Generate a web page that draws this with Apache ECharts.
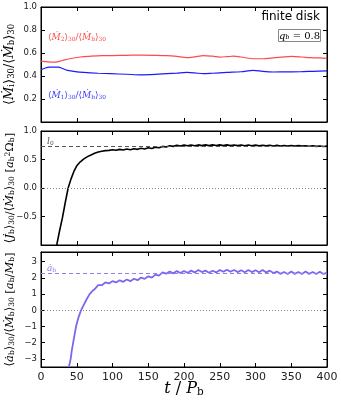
<!DOCTYPE html>
<html><head><meta charset="utf-8">
<script src="https://cdn.jsdelivr.net/npm/echarts@6/dist/echarts.min.js"></script>
<style>html,body{margin:0;padding:0;background:#fff}#c{width:341px;height:409px}</style>
</head><body><div id="c"></div>
<script>
// ---- data ----
const xTicks = [0,50,100,150,200,250,300,350,400];
const p1Ticks = [0.2,0.4,0.6,0.8,1.0];
const p2Ticks = [-0.5,0.0,0.5,1.0];
const p3Ticks = [-3,-2,-1,0,1,2,3];

const t2 = [0,10,20,30,40,55,70,85,100,120,140,160,176,190,204,215,227,240,250,260,269,280,297,310,325,340,350,365,376,390,400];
const m2 = [0.53,0.522,0.52,0.535,0.55,0.565,0.572,0.577,0.578,0.58,0.582,0.58,0.577,0.57,0.56,0.567,0.577,0.572,0.565,0.568,0.572,0.565,0.55,0.55,0.557,0.566,0.57,0.565,0.56,0.557,0.553];
const t1 = [0,6,12,24,30,37,48,60,80,97,120,139,160,176,190,204,215,227,240,260,280,297,310,325,345,363,380,400];
const m1 = [0.455,0.47,0.478,0.477,0.465,0.449,0.438,0.431,0.424,0.42,0.415,0.41,0.414,0.42,0.425,0.431,0.427,0.42,0.424,0.431,0.437,0.449,0.44,0.435,0.436,0.437,0.441,0.445];

const tJ = [22,26,30,34,38,42,46,50,55,60,65,70,75,80,85,90,95,100,105,110,115,120,125,130,135,140,145,150,155,160,165,170,175,180,185,190,195,200,205,210,215,220,225,230,235,240,245,250,255,260,265,270,275,280,285,290,295,300,305,310,315,320,325,330,335,340,345,350,355,360,365,370,375,380,385,390,395,400];
const Jb = [-1.0,-0.75,-0.52,-0.25,0.0,0.16,0.29,0.39,0.46,0.51,0.55,0.58,0.61,0.63,0.645,0.655,0.66,0.672,0.662,0.678,0.668,0.684,0.672,0.688,0.678,0.696,0.684,0.706,0.694,0.716,0.706,0.73,0.72,0.742,0.73,0.748,0.736,0.752,0.74,0.755,0.742,0.756,0.744,0.756,0.744,0.757,0.745,0.756,0.744,0.756,0.744,0.755,0.743,0.754,0.742,0.753,0.741,0.752,0.74,0.75,0.739,0.749,0.738,0.748,0.737,0.747,0.736,0.746,0.735,0.744,0.734,0.742,0.732,0.74,0.73,0.738,0.728,0.734];
const l0 = 0.73;

const tA = [39,41.5,43,45,47,49,52,56,60,64,68,72,76,80,85,90,95,100,105,110,115,120,125,130,135,140,145,150,155,160,165,170,175,180,185,190,195,200,205,210,215,220,225,230,235,240,245,250,255,260,265,270,275,280,285,290,295,300,305,310,315,320,325,330,335,340,345,350,355,360,365,370,375,380,385,390,395,400];
const Ab = [-3.5,-3.0,-2.5,-2.0,-1.5,-1.0,-0.5,0.0,0.35,0.7,1.0,1.2,1.35,1.55,1.55,1.72,1.66,1.80,1.72,1.85,1.76,1.90,1.80,1.95,1.86,2.02,1.94,2.10,2.02,2.20,2.14,2.34,2.26,2.40,2.28,2.42,2.30,2.43,2.31,2.45,2.34,2.49,2.36,2.45,2.32,2.44,2.34,2.49,2.38,2.51,2.38,2.49,2.36,2.47,2.35,2.49,2.36,2.47,2.35,2.49,2.34,2.45,2.30,2.39,2.25,2.37,2.24,2.39,2.25,2.37,2.24,2.39,2.25,2.37,2.24,2.38,2.24,2.33];
const qb = 2.3;

const yTitles = [
  '\u27e8{i|\u1e40}{s|i}\u27e9{s|30}/\u27e8{i|\u1e40}{s|b}\u27e9{s|30}',
  '\u27e8{i|J\u0307}{s|b}\u27e9{s|30}/\u27e8{i|\u1e40}{s|b}\u27e9{s|30} [{i|a}{s|b}{u|2}\u03a9{s|b}]',
  '\u27e8{i|\u0227}{s|b}\u27e9{s|30}/\u27e8{i|\u1e40}{s|b}\u27e9{s|30} [{i|a}{s|b}/{i|M}{s|b}]'
];
const yTitleSize = [13, 11.5, 11.5];

// ---- chart ----
const zip = (a,b)=>a.map((v,i)=>[v,b[i]]);
const fmt = v => String(v).replace('-', '\u2212');
const fmt1 = v => Number(v).toFixed(1).replace('-', '\u2212');
const panels = [{top:7, height:115},{top:131, height:114},{top:252, height:115}];
const grids = panels.map(p => ({top:p.top, height:p.height, left:41, right:14, show:true, borderColor:'#000', borderWidth:1, backgroundColor:'transparent'}));
const axLine = () => ({show:true, onZero:false, lineStyle:{color:'#000', width:1}});
const tickIn = (cv) => { const o = {show:true, inside:true, length:4, lineStyle:{color:'#000'}}; if (cv) o.customValues = cv.slice(); return o; };
const xAxes = [], yAxes = [];
for (let g=0; g<3; g++) {
  xAxes.push({type:'value', gridIndex:g, min:0, max:400, interval:50, position:'bottom',
    axisLine:axLine(), axisTick:tickIn(), splitLine:{show:false},
    axisLabel:{show:g===2, color:'#222', fontSize:11, fontFamily:'DejaVu Sans', margin:5}});
  xAxes.push({type:'value', gridIndex:g, min:0, max:400, interval:50, position:'top',
    axisLine:axLine(), axisTick:tickIn(), axisLabel:{show:false}, splitLine:{show:false}});
}
const yDefs = [
  {min:0, max:1, ticks:p1Ticks, f:fmt1},
  {min:-1, max:1, ticks:p2Ticks, f:fmt1},
  {min:-3.5, max:3.6, ticks:p3Ticks, f:fmt}
];
yDefs.forEach((d,g)=>{
  yAxes.push({type:'value', gridIndex:g, min:d.min, max:d.max, position:'left',
    axisLine:axLine(), splitLine:{show:false}, axisTick:tickIn(d.ticks),
    axisLabel:{show:true, color:'#222', fontSize:8.5, fontFamily:'DejaVu Sans', margin:4, customValues:d.ticks.slice(), formatter:d.f}});
  yAxes.push({type:'value', gridIndex:g, min:d.min, max:d.max, position:'right',
    axisLine:axLine(), splitLine:{show:false}, axisTick:tickIn(d.ticks),
    axisLabel:{show:false}});
});

const zeroLine = (extra) => ({silent:true, symbol:'none', animation:false,
  data:[{yAxis:0, lineStyle:{color:'#888', type:[1,2], width:1}, label:{show:false}}].concat(extra||[])});

const richT = (fs, col) => ({
  i:{fontStyle:'italic', fontFamily:'DejaVu Serif', fontSize:fs, fill:col, color:col},
  s:{fontSize:Math.round(fs*0.65*10)/10, fontFamily:'DejaVu Serif', fill:col, color:col, verticalAlign:'bottom', lineHeight:fs*0.85},
  u:{fontSize:Math.round(fs*0.65*10)/10, fontFamily:'DejaVu Serif', fill:col, color:col, verticalAlign:'top', lineHeight:fs*0.85}
});

const graphics = [
  {type:'text', right:21, top:11, style:{text:'finite disk', fontSize:12, fontFamily:'DejaVu Sans', fill:'#000'}},
  {type:'rect', shape:{x:278.5, y:29.5, width:42, height:12}, style:{fill:'#fff', stroke:'#888', lineWidth:1}},
  {type:'text', x:299.5, y:36, style:{text:'{i|q}{s|b} = 0.8', align:'center', verticalAlign:'middle', fontSize:10, fontFamily:'DejaVu Serif', fill:'#000', rich:richT(10,'#000')}},
  {type:'text', x:48, y:38, style:{text:'\u27e8{i|\u1e40}{s|2}\u27e9{s|30}/\u27e8{i|\u1e40}{s|b}\u27e9{s|30}', verticalAlign:'middle', fontSize:9, fontFamily:'DejaVu Serif', fill:'#ff4a4a', rich:richT(9,'#ff4a4a')}},
  {type:'text', x:48, y:96, style:{text:'\u27e8{i|\u1e40}{s|1}\u27e9{s|30}/\u27e8{i|\u1e40}{s|b}\u27e9{s|30}', verticalAlign:'middle', fontSize:9, fontFamily:'DejaVu Serif', fill:'#3a3aff', rich:richT(9,'#3a3aff')}},
  {type:'text', x:184, y:389, style:{text:'{i|t} / {i|P}{s|b}', align:'center', verticalAlign:'middle', fontSize:16, fontFamily:'DejaVu Serif', fill:'#000', rich:richT(16,'#000')}}
];
panels.forEach((p,g)=>{
  graphics.push({type:'text', x:10, y:p.top + p.height/2, rotation:Math.PI/2,
    style:{text:yTitles[g], align:'center', verticalAlign:'middle', fontSize:yTitleSize[g], fontFamily:'DejaVu Serif', fill:'#000', rich:richT(yTitleSize[g],'#000')}});
});

const option = {
  animation:false,
  grid:grids, xAxis:xAxes, yAxis:yAxes,
  series:[
    {type:'line', xAxisIndex:0, yAxisIndex:0, data:zip(t2,m2), showSymbol:false, smooth:0.3, lineStyle:{color:'#ff4a4a', width:1.2}},
    {type:'line', xAxisIndex:0, yAxisIndex:0, data:zip(t1,m1), showSymbol:false, smooth:0.3, lineStyle:{color:'#1a1aff', width:1.2}},
    {type:'line', xAxisIndex:2, yAxisIndex:2, data:zip(tJ,Jb), showSymbol:false, lineStyle:{color:'#000', width:1.6},
      markLine:zeroLine([{yAxis:l0, lineStyle:{color:'#555', type:[4,3], width:1},
        label:{show:true, position:'insideStartTop', formatter:'{i|l}{s|0}', distance:[6,0], color:'#555', fontFamily:'DejaVu Serif', fontSize:9, rich:richT(9,'#555')}}])},
    {type:'line', xAxisIndex:4, yAxisIndex:4, data:zip(tA,Ab), showSymbol:false, lineStyle:{color:'#7b68ee', width:1.8},
      markLine:zeroLine([{yAxis:qb, lineStyle:{color:'#8f80f0', type:[4,3], width:1},
        label:{show:true, position:'insideStartTop', formatter:'{i|\u0227}{s|b}', distance:[6,0], color:'#8f80f0', fontFamily:'DejaVu Serif', fontSize:9, rich:richT(9,'#8f80f0')}}])}
  ],
  graphic:graphics
};
const el = document.getElementById('c');
const chart = echarts.init(el, null, {renderer:'canvas', width:341, height:408});
chart.setOption(option);
chart.resize({width:341, height:409});

// safety net: if the y tick labels were not drawn by the axes, place them with the axes' own scale
function labelShown(txt) {
  try {
    return chart.getZr().storage.getDisplayList(true).some(e => e.style && e.style.text === txt && !e.ignore && !e.invisible);
  } catch (err) { return true; }
}
const extra = [];
yDefs.forEach((d,g)=>{
  const probe = d.f(d.ticks[1]);
  if (!labelShown(probe)) {
    d.ticks.forEach(v=>{
      const p = chart.convertToPixel({xAxisIndex:2*g, yAxisIndex:2*g}, [0, v]);
      extra.push({type:'text', x:p[0]-4, y:p[1], style:{text:d.f(v), align:'right', verticalAlign:'middle', fontSize:8.5, fontFamily:'DejaVu Sans', fill:'#222'}});
    });
  }
});
if (extra.length) chart.setOption({graphic: graphics.concat(extra)});
</script></body></html>
